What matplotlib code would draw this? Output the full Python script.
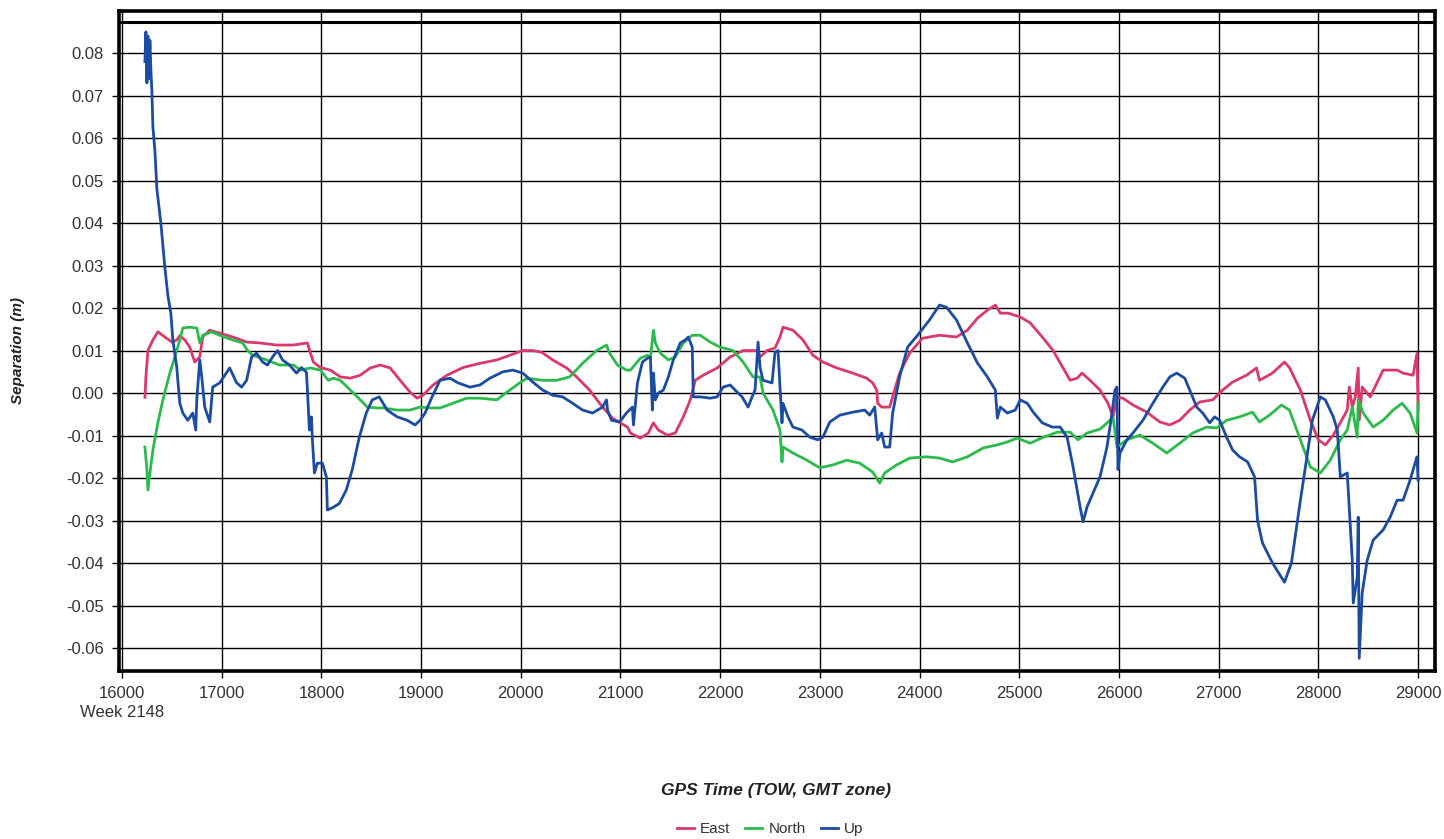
import matplotlib
matplotlib.use("Agg")
import matplotlib.pyplot as plt
import numpy as np

plt.rcParams["font.family"] = ["Liberation Sans", "DejaVu Sans"]
plt.rcParams["axes.unicode_minus"] = False

# GPS time of week (s) and separation (m) per component
east_t = [16230, 16240, 16260, 16310, 16360, 16430, 16500, 16550, 16580, 16630, 16680, 16730,
          16780, 16810, 16880, 16980, 17110, 17250, 17380, 17550, 17720, 17860, 17890, 17920,
          17990, 18090, 18190, 18290, 18390, 18490, 18590, 18690, 18790, 18890, 18960, 19020,
          19120, 19260, 19420, 19590, 19760, 19890, 20020, 20120, 20210, 20320, 20460, 20560,
          20690, 20820, 20920, 21070, 21100, 21200, 21280, 21330, 21380, 21470, 21550, 21630,
          21700, 21750, 21830, 21970, 22100, 22230, 22370, 22400, 22470, 22550, 22600, 22630,
          22730, 22830, 22930, 23030, 23170, 23330, 23470, 23530, 23570, 23580, 23620, 23700,
          23730, 23800, 23900, 24030, 24200, 24370, 24480, 24580, 24680, 24760, 24810, 24890,
          25010, 25110, 25230, 25340, 25440, 25510, 25580, 25630, 25710, 25810, 25890, 25940,
          25980, 26040, 26140, 26280, 26410, 26510, 26610, 26710, 26810, 26940, 27040, 27140,
          27280, 27380, 27410, 27540, 27660, 27710, 27820, 27920, 28000, 28070, 28150, 28220,
          28290, 28310, 28340, 28370, 28400, 28410, 28440, 28520, 28650, 28790, 28850, 28950,
          28990, 29000]
east_v = [-0.001, 0.0038, 0.010, 0.0125, 0.0144, 0.0132, 0.012, 0.0125, 0.0135, 0.0125, 0.0108, 0.0073,
          0.0085, 0.0132, 0.0148, 0.0141, 0.0132, 0.012, 0.0118, 0.0113, 0.0113, 0.0118, 0.0094, 0.0073,
          0.006, 0.0054, 0.0038, 0.0035, 0.0042, 0.0059, 0.0066, 0.0059, 0.003, 0.0002, -0.0012, -0.0005,
          0.0019, 0.0042, 0.006, 0.007, 0.0078, 0.0089, 0.010, 0.010, 0.0096, 0.0078, 0.0059, 0.0038,
          0.0007, -0.0033, -0.0059, -0.008, -0.0094, -0.0106, -0.0094, -0.007, -0.0087, -0.0099, -0.0094, -0.0056,
          -0.0016, 0.003, 0.0042, 0.0059, 0.0085, 0.010, 0.010, 0.0085, 0.010, 0.0106, 0.0132, 0.0155,
          0.0148, 0.0125, 0.0089, 0.0073, 0.0059, 0.0047, 0.0035, 0.0024, 0.0007, -0.0024, -0.0033, -0.0033,
          -0.0009, 0.0047, 0.0094, 0.0129, 0.0136, 0.0132, 0.0148, 0.0176, 0.0195, 0.0207, 0.0188, 0.0188,
          0.0179, 0.0165, 0.0132, 0.010, 0.0059, 0.003, 0.0035, 0.0047, 0.003, 0.0007, -0.0024, -0.0056,
          -0.001, -0.0012, -0.0028, -0.0045, -0.0068, -0.0075, -0.0064, -0.004, -0.0021, -0.0016, 0.0007, 0.0026,
          0.0042, 0.0059, 0.003, 0.0047, 0.0073, 0.006, 0.0007, -0.0064, -0.011, -0.0122, -0.0099, -0.007,
          -0.004, 0.0014, -0.0033, -0.001, 0.0059, -0.0064, 0.0014, -0.0009, 0.0054, 0.0054, 0.0047, 0.0042,
          0.0094, -0.004]

north_t = [16230, 16250, 16260, 16280, 16310, 16360, 16410, 16480, 16530, 16580, 16610, 16680,
           16750, 16780, 16810, 16900, 16980, 17110, 17210, 17260, 17310, 17450, 17580, 17720,
           17790, 17890, 17990, 18070, 18120, 18190, 18290, 18390, 18460, 18560, 18620, 18760,
           18890, 18990, 19090, 19190, 19320, 19460, 19590, 19760, 19860, 19960, 20060, 20220,
           20360, 20490, 20620, 20760, 20860, 20890, 20970, 21060, 21100, 21200, 21270, 21300,
           21330, 21350, 21400, 21480, 21550, 21630, 21720, 21800, 21900, 22000, 22130, 22230,
           22330, 22400, 22430, 22530, 22600, 22620, 22630, 22730, 22870, 23000, 23130, 23270,
           23400, 23530, 23560, 23600, 23650, 23770, 23900, 24070, 24200, 24330, 24480, 24640,
           24780, 24880, 24980, 25110, 25240, 25380, 25510, 25590, 25680, 25810, 25910, 25940,
           25980, 26080, 26210, 26340, 26480, 26610, 26740, 26880, 26980, 27080, 27210, 27340,
           27410, 27510, 27630, 27710, 27820, 27920, 28020, 28120, 28220, 28290, 28340, 28390,
           28400, 28450, 28550, 28650, 28750, 28840, 28920, 28990, 29000]
north_v = [-0.0127, -0.018, -0.0228, -0.0188, -0.0134, -0.007, -0.0016, 0.0047, 0.0085, 0.0125, 0.0153, 0.0155,
           0.0153, 0.0118, 0.0136, 0.0144, 0.0136, 0.0125, 0.0118, 0.010, 0.0089, 0.0078, 0.0066, 0.0066,
           0.0054, 0.0059, 0.0054, 0.003, 0.0035, 0.003, 0.0007, -0.0016, -0.0033, -0.0035, -0.0035, -0.004,
           -0.004, -0.0033, -0.0035, -0.0035, -0.0024, -0.0012, -0.0012, -0.0016, 0.0002, 0.0019, 0.0035, 0.003,
           0.003, 0.0038, 0.007, 0.010, 0.0113, 0.0094, 0.0066, 0.0054, 0.0054, 0.0082, 0.0089, 0.008,
           0.0148, 0.0118, 0.0094, 0.0078, 0.0085, 0.0118, 0.0136, 0.0136, 0.012, 0.0108, 0.010, 0.0073,
           0.0038, 0.0038, 0.0, -0.004, -0.0087, -0.0162, -0.0127, -0.0141, -0.0158, -0.0176, -0.0169, -0.0158,
           -0.0165, -0.0186, -0.0197, -0.0212, -0.0188, -0.0169, -0.0153, -0.015, -0.0153, -0.0162, -0.015, -0.0129,
           -0.0122, -0.0115, -0.0106, -0.0118, -0.0104, -0.0092, -0.0092, -0.011, -0.0094, -0.0085, -0.0064, -0.0056,
           -0.0127, -0.011, -0.0099, -0.0118, -0.0141, -0.0118, -0.0094, -0.008, -0.0082, -0.0064, -0.0056, -0.0045,
           -0.0068, -0.0052, -0.0028, -0.004, -0.011, -0.0174, -0.0188, -0.0158, -0.011, -0.0087, -0.0033, -0.0104,
           -0.0016, -0.0047, -0.008, -0.0064, -0.004, -0.0024, -0.0047, -0.0094, -0.0024]

up_t = [16230, 16240, 16250, 16260, 16270, 16280, 16290, 16300, 16310, 16330, 16350, 16390,
        16430, 16460, 16490, 16510, 16550, 16560, 16580, 16610, 16660, 16710, 16740, 16750,
        16780, 16800, 16830, 16880, 16910, 16980, 17080, 17150, 17200, 17250, 17300, 17350,
        17410, 17460, 17510, 17560, 17610, 17680, 17750, 17800, 17850, 17860, 17880, 17900,
        17910, 17930, 17960, 18010, 18050, 18060, 18110, 18180, 18250, 18310, 18380, 18450,
        18510, 18580, 18660, 18760, 18860, 18940, 18990, 19040, 19110, 19190, 19290, 19370,
        19490, 19590, 19690, 19820, 19920, 20020, 20120, 20220, 20320, 20420, 20520, 20620,
        20720, 20820, 20860, 20870, 20910, 20990, 21060, 21120, 21130, 21170, 21220, 21270,
        21300, 21320, 21330, 21350, 21380, 21430, 21480, 21530, 21600, 21650, 21680, 21720,
        21730, 21800, 21900, 21970, 22030, 22100, 22150, 22220, 22280, 22320, 22350, 22380,
        22400, 22430, 22520, 22550, 22580, 22600, 22620, 22630, 22680, 22730, 22820, 22900,
        22980, 23030, 23100, 23200, 23330, 23450, 23500, 23550, 23580, 23620, 23650, 23700,
        23730, 23800, 23880, 23980, 24100, 24200, 24270, 24370, 24480, 24580, 24680, 24760,
        24780, 24810, 24880, 24960, 25010, 25080, 25140, 25230, 25330, 25410, 25480, 25540,
        25610, 25640, 25680, 25740, 25810, 25880, 25930, 25960, 25980, 25990, 26010, 26080,
        26140, 26240, 26340, 26440, 26510, 26580, 26660, 26710, 26780, 26840, 26910, 26960,
        27010, 27080, 27140, 27210, 27290, 27360, 27390, 27440, 27540, 27660, 27730, 27810,
        27880, 27940, 28020, 28070, 28150, 28190, 28220, 28290, 28340, 28350, 28390, 28400,
        28410, 28440, 28490, 28550, 28650, 28720, 28790, 28850, 28920, 28970, 28990, 29000]
up_v = [0.078, 0.085, 0.073, 0.084, 0.074, 0.083, 0.076, 0.071, 0.0626, 0.057, 0.048, 0.040,
        0.0296, 0.023, 0.0188, 0.0125, 0.006, 0.003, -0.0024, -0.0047, -0.0064, -0.0047, -0.0087, -0.0016,
        0.0078, 0.0038, -0.0033, -0.0068, 0.0014, 0.0024, 0.0059, 0.0024, 0.0014, 0.003, 0.0085, 0.0094,
        0.0073, 0.0066, 0.0085, 0.010, 0.0078, 0.0066, 0.0047, 0.006, 0.0049, 0.0007, -0.0087, -0.0056,
        -0.011, -0.0188, -0.0165, -0.0165, -0.0197, -0.0275, -0.027, -0.026, -0.0228, -0.018, -0.0104, -0.0047,
        -0.0016, -0.0009, -0.004, -0.0056, -0.0064, -0.0075, -0.0064, -0.0047, -0.0009, 0.003, 0.0035, 0.0024,
        0.0014, 0.0019, 0.0035, 0.005, 0.0054, 0.0047, 0.0026, 0.0007, -0.0005, -0.0009, -0.0024, -0.004,
        -0.0047, -0.0033, -0.0016, -0.004, -0.0064, -0.0068, -0.0047, -0.0033, -0.0075, 0.0024, 0.0073, 0.0082,
        0.0085, -0.004, 0.0047, -0.0016, 0.0, 0.0007, 0.0038, 0.0078, 0.0118, 0.0125, 0.0132, 0.0108,
        -0.0009, -0.0009, -0.0012, -0.0009, 0.0014, 0.0019, 0.0007, -0.0009, -0.0033, -0.0009, 0.0007, 0.012,
        0.006, 0.003, 0.0024, 0.0096, 0.010, 0.0014, -0.007, -0.0024, -0.0056, -0.008, -0.0087, -0.0104,
        -0.011, -0.0104, -0.0068, -0.0052, -0.0045, -0.004, -0.0052, -0.0033, -0.011, -0.0094, -0.0127, -0.0127,
        -0.0047, 0.0038, 0.0108, 0.0136, 0.0172, 0.0207, 0.0202, 0.0172, 0.0118, 0.0071, 0.0038, 0.0007,
        -0.0059, -0.0033, -0.0047, -0.004, -0.0016, -0.0024, -0.0045, -0.007, -0.008, -0.008, -0.0104, -0.0174,
        -0.0268, -0.0303, -0.0268, -0.0235, -0.0197, -0.0127, -0.0047, 0.0007, 0.0014, -0.018, -0.0141, -0.011,
        -0.0094, -0.0064, -0.0024, 0.0014, 0.0038, 0.0047, 0.0035, 0.0007, -0.0033, -0.0047, -0.007, -0.0056,
        -0.0064, -0.0104, -0.0134, -0.015, -0.0162, -0.0197, -0.030, -0.0353, -0.040, -0.0445, -0.040, -0.0268,
        -0.0158, -0.0064, -0.0009, -0.0016, -0.0056, -0.0087, -0.0197, -0.0188, -0.0393, -0.0494, -0.0433, -0.0292,
        -0.0624, -0.047, -0.0393, -0.0346, -0.0322, -0.0292, -0.0252, -0.0252, -0.0205, -0.0165, -0.015, -0.0205]

series = [("East", east_t, east_v, "#d93a6b"),
          ("North", north_t, north_v, "#2dba4c"),
          ("Up", up_t, up_v, "#1b4ba3")]

fig = plt.figure(figsize=(14.44, 8.39), dpi=100)
ax = fig.add_axes([119 / 1444, 1 - 671 / 839, (1435 - 119) / 1444, (671 - 11) / 839])

for name, t, v, c in series:
    ax.plot(t, v, color=c, lw=2.0, label=name)

ax.set_xlim(15970, 29170)
ax.set_ylim(-0.0654, 0.0899)
ax.set_xticks(np.arange(16000, 29001, 1000))
ax.set_yticks(np.arange(-0.06, 0.0801, 0.01))
xlabels = [str(v) for v in range(16000, 29001, 1000)]
xlabels[0] = "16000\nWeek 2148"
ax.set_xticklabels(xlabels, linespacing=1.35, va="top")
ax.set_yticklabels(["%.2f" % v for v in np.arange(-0.06, 0.0801, 0.01)])
ax.tick_params(direction="out", length=5, width=1, color="black",
               labelsize=12, labelcolor="#333333", pad=6)
ax.grid(True, color="black", lw=1.0)
ax.axhline(0.0873, color="black", lw=2.2)
for s in ax.spines.values():
    s.set_linewidth(2.6)
    s.set_color("black")

fig.text(18 / 1444, 1 - 350 / 839, "Separation (m)", rotation=90, ha="center", va="center",
         fontsize=11, fontweight="bold", fontstyle="italic", color="#222222")
fig.text(776 / 1444, 1 - 790 / 839, "GPS Time (TOW, GMT zone)", ha="center", va="center",
         fontsize=12.5, fontweight="bold", fontstyle="italic", color="#222222")
fig.legend(loc="center", bbox_to_anchor=(770 / 1444, 1 - 829 / 839), ncol=3, frameon=False,
           fontsize=11, handlelength=1.1, handletextpad=0.4, columnspacing=1.0,
           labelcolor="#333333")

fig.savefig("out.png", dpi=100)
